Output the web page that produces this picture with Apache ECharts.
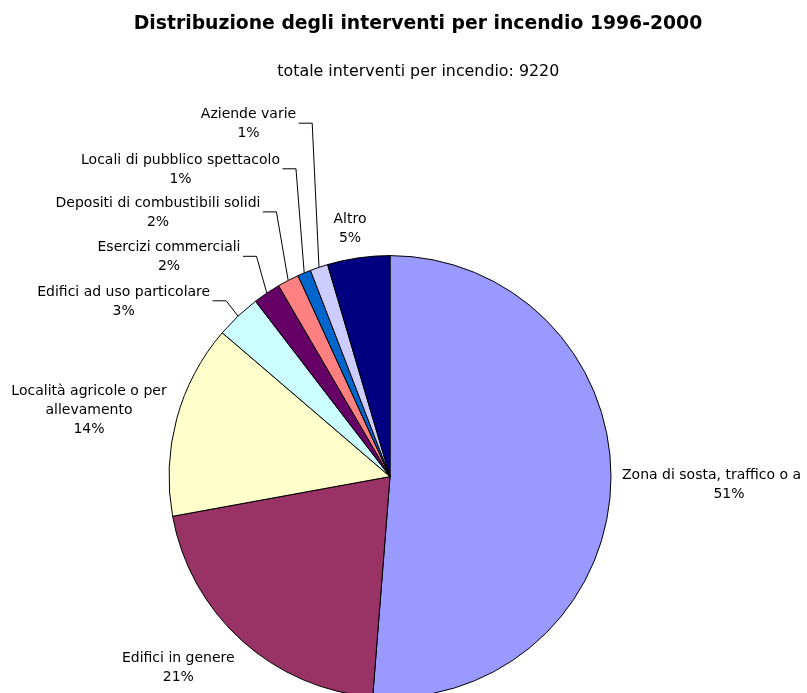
<!DOCTYPE html>
<html>
<head>
<meta charset="utf-8">
<script src="https://cdn.jsdelivr.net/npm/echarts@6/dist/echarts.min.js"></script>
<style>
  html, body { margin: 0; padding: 0; background: #fff; }
  #chart { width: 807px; height: 693px; }
</style>
</head>
<body>
<div id="chart"></div>
<script>
// ---- data ----
var titleText = 'Distribuzione degli interventi per incendio 1996-2000';
var subtitleText = 'totale interventi per incendio: 9220';
var categories = [
  'Zona di sosta, traffico o a',
  'Edifici in genere',
  'Località agricole o per\nallevamento',
  'Edifici ad uso particolare',
  'Esercizi commerciali',
  'Depositi di combustibili solidi',
  'Locali di pubblico spettacolo',
  'Aziende varie',
  'Altro'
];
var values = [4725, 1925, 1305, 305, 185, 145, 90, 120, 420];
var colors = ['#9999FF', '#993366', '#FFFFCC', '#CCFFFF', '#660066', '#FF8080', '#0066CC', '#CCCCFF', '#000080'];

// ---- label layout (positions of label text blocks, px) ----
var labelPos = [
  { x: 622, y: 484.5, align: 'left' },
  { x: 178.3, y: 667.7 },
  { x: 89, y: 409.9 },
  { x: 123.7, y: 301.8, leader: true },
  { x: 169, y: 257.3, leader: true },
  { x: 158, y: 212.9, leader: true },
  { x: 180.5, y: 169.8, leader: true },
  { x: 248.5, y: 124.2, leader: true },
  { x: 350, y: 228.8 }
];

var FONT = '"DejaVu Sans", Verdana, sans-serif';
var chart = echarts.init(document.getElementById('chart'), null, { renderer: 'canvas' });

var pieData = categories.map(function (name, i) {
  return {
    name: name,
    value: values[i],
    itemStyle: { color: colors[i] },
    labelLine: { show: !!labelPos[i].leader }
  };
});

chart.setOption({
  animation: false,
  backgroundColor: '#fff',
  graphic: [
    { type: 'text', x: 418, y: 24.5, style: { text: titleText, font: 'bold 18.8px ' + FONT, fill: '#000', textAlign: 'center', textVerticalAlign: 'middle' } },
    { type: 'text', x: 418.3, y: 72, style: { text: subtitleText, font: '15.85px ' + FONT, fill: '#000', textAlign: 'center', textVerticalAlign: 'middle' } }
  ],
  series: [{
    type: 'pie',
    center: [390, 476.6],
    radius: 221,
    startAngle: 90,
    clockwise: true,
    avoidLabelOverlap: false,
    silent: true,
    emphasis: { disabled: true },
    itemStyle: { borderColor: '#000', borderWidth: 1 },
    label: {
      show: true,
      position: 'outside',
      fontFamily: FONT,
      fontSize: 14,
      lineHeight: 19,
      color: '#000',
      align: 'center',
      formatter: function (p) {
        var pct = Math.round(p.percent) + '%';
        if (p.dataIndex === 0) {
          return '{n|' + p.name + '}\n{p|' + pct + '}';
        }
        return p.name + '\n' + pct;
      },
      rich: {
        n: { fontFamily: FONT, fontSize: 14, lineHeight: 19, color: '#000' },
        p: { fontFamily: FONT, fontSize: 14, lineHeight: 19, color: '#000', width: 214, align: 'center' }
      }
    },
    labelLine: { show: true, length: 10, length2: 10, smooth: false, lineStyle: { color: '#000', width: 1 } },
    labelLayout: function (params) {
      var i = params.dataIndex;
      var lp = labelPos[i];
      var res = { x: lp.x, y: lp.y, align: lp.align || 'center', verticalAlign: 'middle', hideOverlap: false, moveOverlap: false };
      if (lp.leader && params.labelLinePoints) {
        var w = params.labelRect.width;
        var right = lp.x + w / 2;
        var edge = params.labelLinePoints[0];
        res.labelLinePoints = [
          [edge[0], edge[1]],
          [right + 16, lp.y - 1],
          [right + 2.5, lp.y - 1]
        ];
      }
      return res;
    },
    data: pieData
  }]
});
</script>
</body>
</html>
